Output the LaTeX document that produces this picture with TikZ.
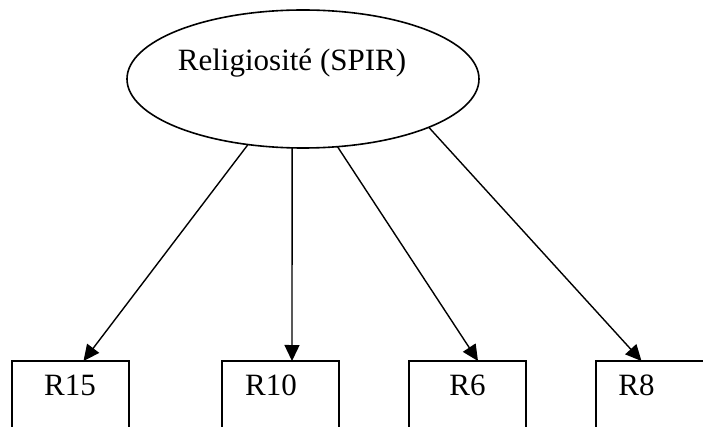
\documentclass[tikz,border=0pt]{standalone}
\usepackage{fontspec}
\setmainfont{Liberation Serif}
\usetikzlibrary{shapes.geometric,arrows.meta,calc}
\begin{document}
\begin{tikzpicture}[x=1pt,y=-1pt,
  latent/.style={draw,ellipse,line width=1.6pt,minimum width=352pt,minimum height=138pt,inner sep=0pt,outer sep=0pt},
  indicator/.style={draw,rectangle,line width=1.4pt,minimum width=117pt,minimum height=90pt,inner sep=0pt,outer sep=0pt,anchor=north west},
  lbl/.style={font=\fontsize{31}{31}\selectfont,inner sep=0pt,anchor=base},
  path/.style={line width=1.4pt,-{Triangle[length=16pt,width=15pt]}}]
  \useasboundingbox (0,0) rectangle (703,427);
  \clip (0,0) rectangle (703,427);

  % latent factor
  \node[latent] (spir) at (303,79) {};
  \node[lbl] (spirtxt) at (292,71) {Religiosité (SPIR)};

  % observed items
  \node[indicator] (r15) at (12,361) {};
  \node[indicator] (r10) at (222,361) {};
  \node[indicator] (r6) at (409,361) {};
  \node[indicator] (r8) at (596,361) {};
  \node[lbl] (t15) at (70,395) {R15};
  \node[lbl] (t10) at (271,395) {R10};
  \node[lbl] (t6) at (467.5,395) {R6};
  \node[lbl] (t8) at (636.5,395) {R8};

  % loadings
  \draw[path] (spir.230.8) -- ($(r15.north)+(13,0)$);
  \draw[path] (spir.261.6) -- ($(r10.north)+(11.5,0)$);
  \draw[path] (spir.297.2) -- ($(r6.north)+(10.5,0)$);
  \draw[path] (spir.339.7) -- ($(r8.north)+(-13,0)$);
\end{tikzpicture}
\end{document}
